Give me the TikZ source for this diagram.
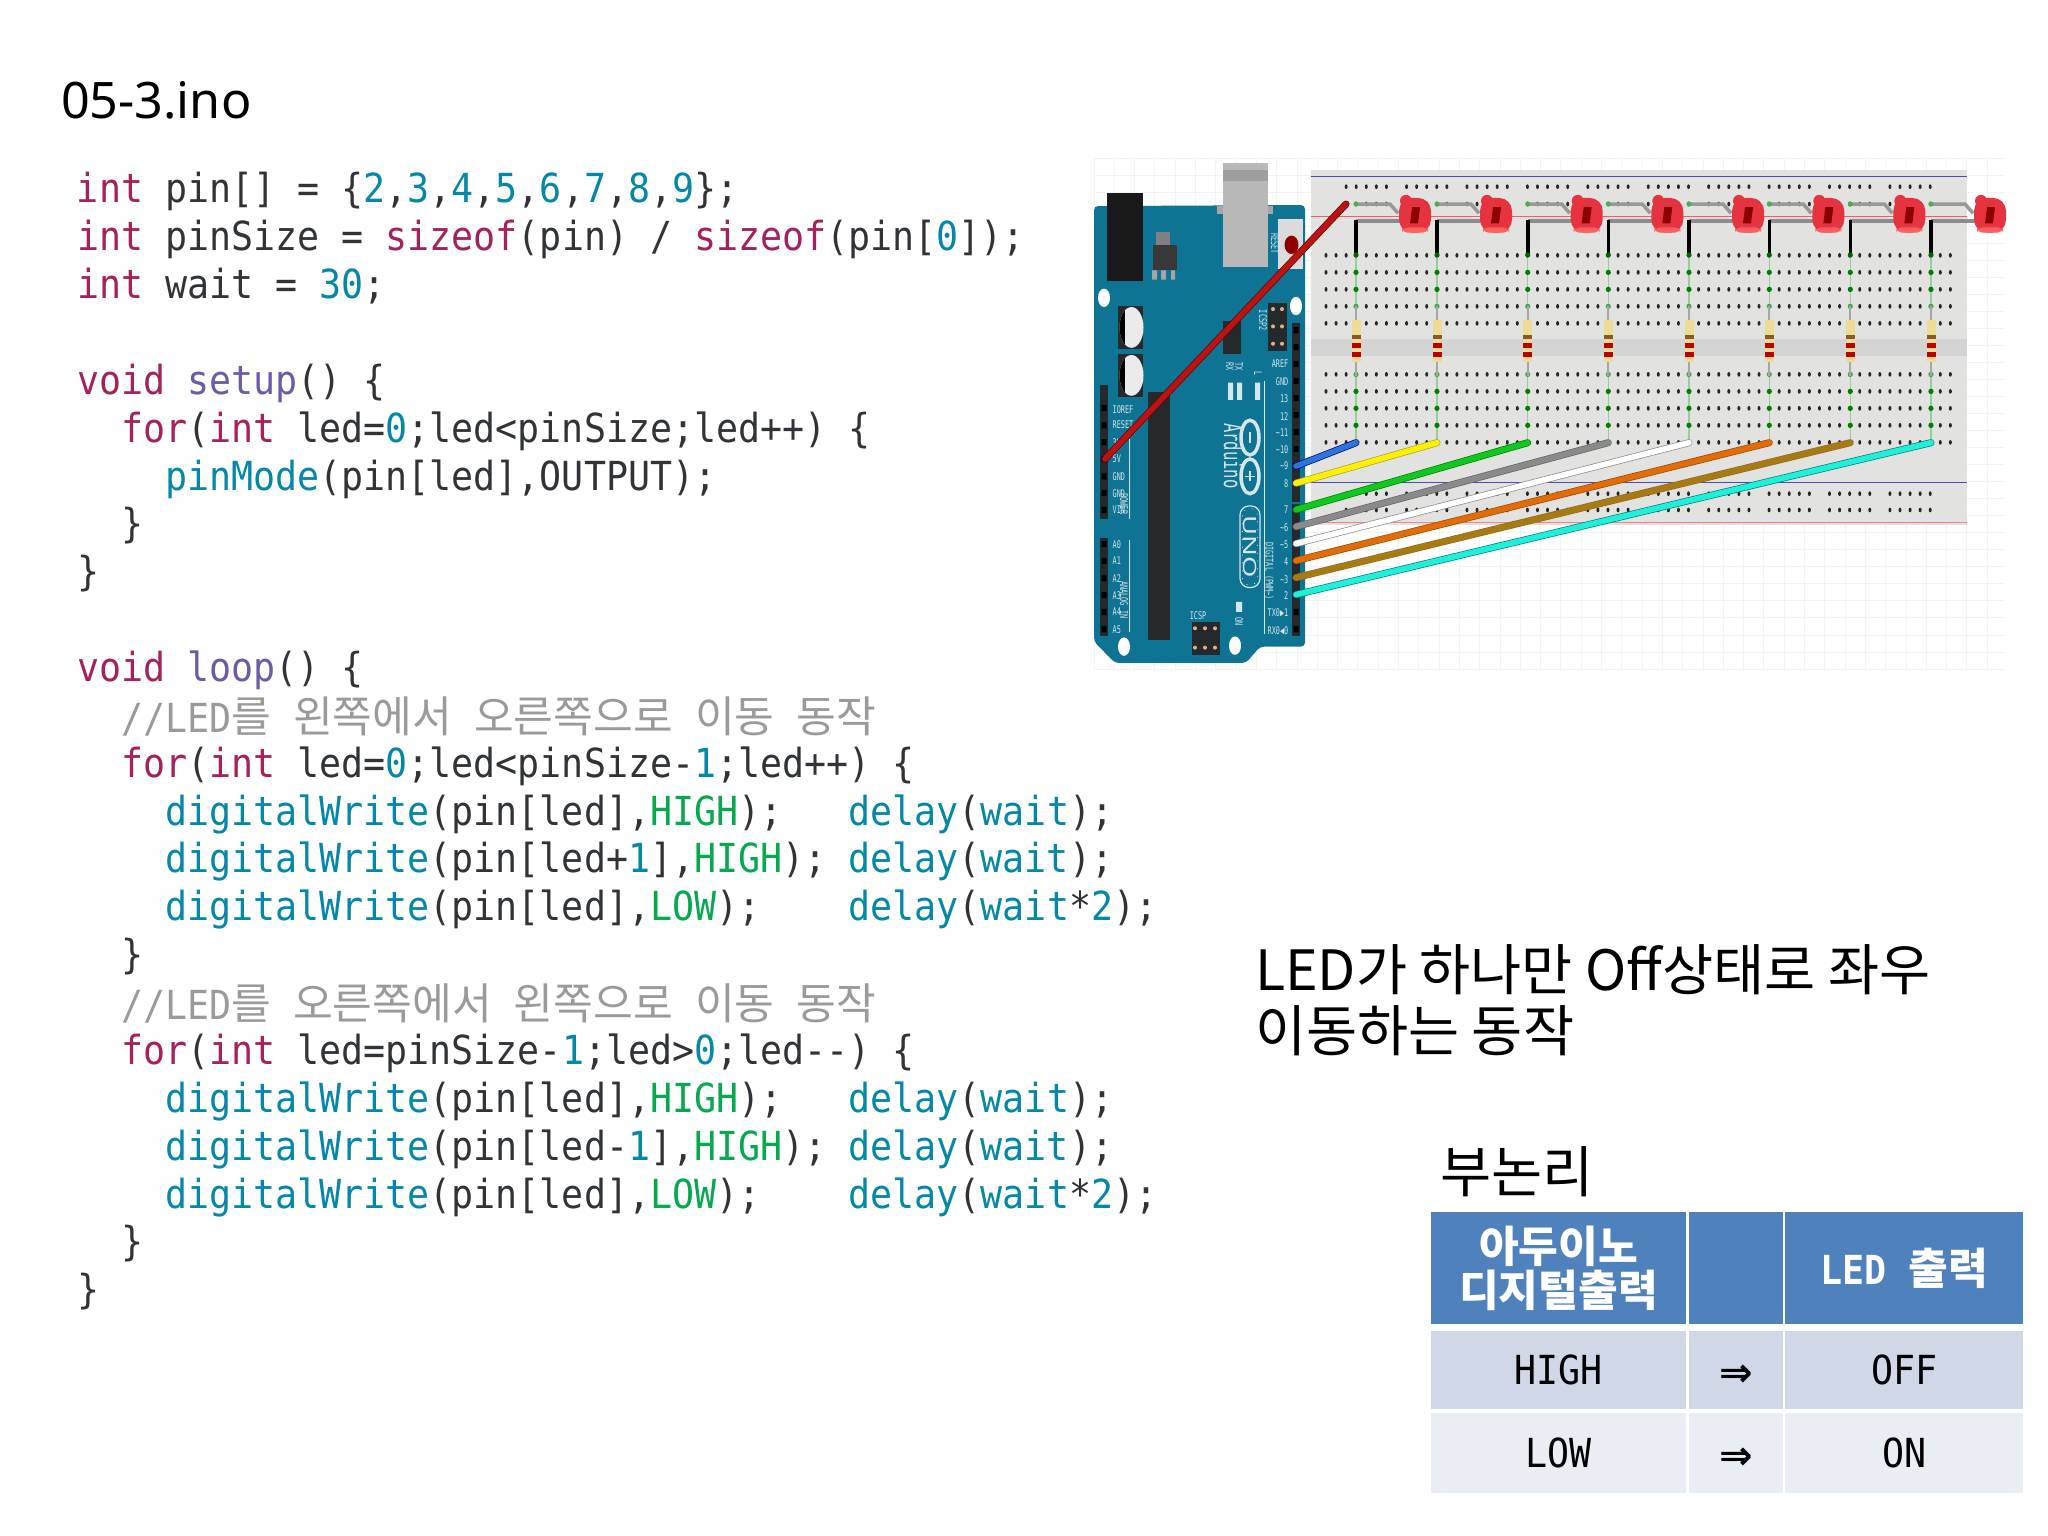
\documentclass[tikz,border=0pt]{standalone}
\usepackage{fontspec}
\usetikzlibrary{positioning}

\setmainfont{Noto Sans}
\newfontfamily\krfont{Noto Sans CJK KR}
\newfontfamily\krcode[Scale=1.08]{Noto Sans CJK KR}
\newfontfamily\codefont[FakeStretch=0.915]{DejaVu Sans Mono}
\newfontfamily\boardfont[FakeStretch=0.65]{DejaVu Sans Mono}
\newfontfamily\unofont[FakeStretch=1.5]{Noto Sans}
\newfontfamily\arrowfont{DejaVu Sans}

\definecolor{kwred}{HTML}{A5215C}
\definecolor{fnteal}{HTML}{0587A8}
\definecolor{setuppurple}{HTML}{6E5AA5}
\definecolor{constgreen}{HTML}{08A850}
\definecolor{cmtgray}{HTML}{9A9A9A}
\definecolor{codeblack}{HTML}{303438}
\definecolor{boardblue}{HTML}{0F7393}
\definecolor{boarddark}{HTML}{25292C}
\definecolor{labelpale}{HTML}{D5E6EC}
\definecolor{headblue}{HTML}{4F81BD}
\definecolor{rowdark}{HTML}{D0D8E8}
\definecolor{rowlight}{HTML}{E9EDF4}
\definecolor{gridline}{HTML}{F3F3F6}
\definecolor{boardgray}{HTML}{E2E2E0}
\definecolor{ledred}{HTML}{E5343F}
\definecolor{wireblue}{HTML}{2E75D8}
\definecolor{wireyellow}{HTML}{FFF000}
\definecolor{wiregreen}{HTML}{10C820}
\definecolor{wiregray}{HTML}{8A8A8A}
\definecolor{wireorange}{HTML}{E36C0A}
\definecolor{wirebrown}{HTML}{A67C10}
\definecolor{wirecyan}{HTML}{20F0D8}
\definecolor{wirered}{HTML}{B81414}

\newcommand{\kw}[1]{\textcolor{kwred}{#1}}
\newcommand{\fn}[1]{\textcolor{fnteal}{#1}}
\newcommand{\su}[1]{\textcolor{setuppurple}{#1}}
\newcommand{\hl}[1]{\textcolor{constgreen}{#1}}
\newcommand{\kr}[1]{{\krcode #1}}
\newcommand{\cmt}[1]{\raisebox{-0.85pt}{\textcolor{cmtgray}{#1}}}
\newcommand{\darrow}{\rule{0pt}{9.4pt}\arrowfont\bfseries ⇒}

\begin{document}
\begin{tikzpicture}[x=0.01cm, y=-0.01cm,
    titletext/.style = {inner sep=0pt, outer sep=0pt, font=\fontsize{14.3}{17}\selectfont, text=black},
    krtext/.style = {inner sep=0pt, outer sep=0pt, align=left, font=\krfont\fontsize{15.8}{17.1}\selectfont, text=black},
    codeblock/.style = {inner sep=0pt, outer sep=0pt, align=left, text=codeblack, font=\codefont\frenchspacing\fontsize{11.38}{13.61}\selectfont},
    tablehead/.style = {inner sep=0pt, outer sep=0pt, align=center, fill=headblue, text=white, font=\codefont\bfseries\fontsize{11.38}{13.61}\selectfont},
    tabledark/.style = {inner sep=0pt, outer sep=0pt, align=center, fill=rowdark, text=black, font=\codefont\fontsize{11.38}{13.61}\selectfont},
    tablelight/.style = {tabledark, fill=rowlight},
    pinlabel/.style = {inner sep=0pt, text=labelpale, font=\boardfont\fontsize{3}{3.4}\selectfont},
    silktext/.style = {pinlabel, rotate=-90},
    header/.style = {fill=boarddark},
    jumper/.style 2 args = {draw=#2, line width=0.007cm, double=#1, double distance=0.056cm, line cap=round}
]
\useasboundingbox (0,0) rectangle (2048,1536);
\fill [white] (0,0) rectangle (2048,1536);

\begin{scope}[y=-0.0102cm, yshift=0.03cm]
% Grid behind the board
\foreach \gx in {1094,1114.3,...,2005} \draw [gridline, line width=0.01cm] (\gx,158) -- (\gx,660);
\foreach \gy in {158,174.7,...,660} \draw [gridline, line width=0.01cm] (1094,\gy) -- (2005,\gy);

% Breadboard
\fill [boardgray] (1311,170) rectangle (1967,518);
\fill [black!17] (1311,335) rectangle (1967,352);
\draw [blue!60!black!70, line width=0.012cm] (1311,176) -- (1967,176);
\draw [red!65, line width=0.012cm] (1311,215) -- (1967,215);
\draw [blue!60!black!70, line width=0.012cm] (1311,476) -- (1967,476);
\draw [red!50, line width=0.012cm] (1311,515) -- (1967,515);
\fill [black!85] \foreach \col in {0,...,62} {\foreach \row in {253.3,270,286.7,303.3,320,370,386.7,403.3,420,436.7} {
    ({1326+10.07*\col},\row) circle [x radius=1.5, y radius=2.3]}};
\fill [black!85] \foreach \grp in {0,...,9} {\foreach \col in {0,...,4} {\foreach \row in {186,203,487,503} {
    ({1326+10.07*(2+6*\grp+\col)},\row) circle [x radius=1.5, y radius=2.3]}}};

% LEDs, resistors
\foreach \wx in {1356,1437,1527.7,1608.3,1689,1769.3,1850.3,1931} {
    \draw [green!60!black!60, line width=0.012cm, opacity=0.6] (\wx,253) -- (\wx,437);
    \fill [green!50!black] \foreach \row in {270,286.7,386.7,403.3,420} {(\wx,\row) circle [radius=2.6]};
    \fill [green!50!black!70] \foreach \row in {303.3,370} {(\wx,\row) circle [radius=2.6]};
    \draw [black!35, line width=0.022cm] (\wx,303) -- (\wx,372);
    \fill [yellow!45!brown!50!white] (\wx-4.5,317) rectangle (\wx+4.5,358);
    \fill [brown!70!black] (\wx-4.5,331) rectangle (\wx+4.5,335);
    \fill [red!75!black] (\wx-4.5,339) rectangle (\wx+4.5,344);
    \fill [red!75!black] (\wx-4.5,348) rectangle (\wx+4.5,353);
    \draw [black!40, line width=0.035cm] (\wx,203) -- ({\wx+34},203) -- ({\wx+42},212);
    \draw [black!45, line width=0.042cm] (\wx,220) -- ({\wx+45},220);
    \fill [green!55!black!70] (\wx,203) circle [radius=2.6];
    \fill [ledred, rounded corners=0.13cm] ({\wx+43},197) rectangle ({\wx+75},231);
    \fill [ledred] ({\wx+50},200) circle [radius=6];
    \fill [red!90!white!70, rounded corners=0.05cm] ({\wx+46},226) rectangle ({\wx+72},231);
    \fill [red!55!black] ({\wx+56},206) -- ({\wx+64},206) -- ({\wx+62},222) -- ({\wx+54},222) -- cycle;
    \draw [black, line width=0.036cm] (\wx,219) -- (\wx,253);
    \fill [green!40!black] (\wx,253) circle [radius=2.6];
}

% Arduino board
\fill [boardblue, rounded corners=0.04cm] (1094,205) -- (1305,204) -- (1305,637) -- (1260,637) -- (1246,653) -- (1115,653) -- (1094,632) -- cycle;
\fill [black!35] (1217,205) rectangle (1273,213);
\fill [black!28] (1223,163) rectangle (1268,265);
\fill [black!38] (1223,170) rectangle (1268,180);
\fill [black!90] (1107,192) rectangle (1143,278);
\fill [black!78] (1153,243) rectangle (1177,268);
\fill [black!50] (1156,230) rectangle (1170,243);
\fill [black!35] (1152,268) rectangle (1157,277) (1161,268) rectangle (1166,277) (1171,268) rectangle (1175,277);
\fill [black!14] (1278,218) rectangle (1303,267);
\fill [red!55!black] (1291.5,243) circle [x radius=7, y radius=9];
\node (resetlabel) [silktext] at (1275,242) {RESET};
\foreach \hx/\hy in {1104/295,1296/303,1124/637,1235/636} \fill [white] (\hx,\hy) circle [x radius=6, y radius=9];
\foreach \cy in {324,371} {
    \fill [boarddark] (1118,\cy-21) rectangle (1143,\cy+21);
    \fill [white!92!black] (1131.5,\cy) circle [x radius=12, y radius=20];
    \begin{scope}
        \clip (1131.5,\cy) circle [x radius=12, y radius=20];
        \fill [black] (1118,\cy-21) rectangle (1125,\cy+21);
    \end{scope}
}
\fill [boarddark] (1148,387) rectangle (1170,630);
\fill [boarddark] (1223,318) rectangle (1241,350);
\fill [header] (1268,300) rectangle (1287,347);
\fill [header] (1192,613) rectangle (1220,645);
\fill [brown!60] \foreach \px in {1273,1282} {\foreach \py in {306,323,340} {(\px,\py) circle [radius=2]}};
\fill [brown!60] \foreach \px in {1195,1205,1215} {\foreach \py in {619,638} {(\px,\py) circle [radius=2]}};
\node (icsptwo) [silktext] at (1263,317) {ICSP2};
\node (icsp) [pinlabel] at (1198,607) {ICSP};

% Headers
\fill [header] (1100,380) rectangle (1108,512);
\fill [header] (1100,530) rectangle (1108,627);
\fill [header] (1292,320) rectangle (1300,495);
\fill [header] (1292,497) rectangle (1300,627);
\fill [black] \foreach \py in {403,420,436.5,453,470,486.5,503,536.5,553,570,586.5,603,620} {(1101.5,\py-3) rectangle (1106.5,\py+3)};
\fill [black] \foreach \py in {326.7,343.3,360,376.7,393.3,410,426.7,443.3,460,476.7,502.7,519.3,536,552.7,569.3,586,603,620} {(1293.5,\py-3) rectangle (1298.5,\py+3)};

% Board labels
\foreach \lbl/\py in {AREF/360,GND/377,13/394,12/411,\textasciitilde 11/427,\textasciitilde 10/444,\textasciitilde 9/460,8/477,7/503,\textasciitilde 6/520,\textasciitilde 5/537,4/554,\textasciitilde 3/571,2/587,TX0▶1/604,RX0◀0/621}
    \node (rlabel\py) [pinlabel, anchor=east] at (1289,\py) {\lbl};
\foreach \lbl/\py in {IOREF/405,RESET/419,3V/437,5V/453,GND/470,GND/487,VIN/503,A0/537,A1/553,A2/570,A3/587,A4/603,A5/620}
    \node (llabel\py) [pinlabel, anchor=west] at (1112,\py) {\lbl};
\node (powerlabel) [silktext] at (1124,497) {POWER};
\node (analoglabel) [silktext] at (1124,591) {ANALOG IN};
\node (digitallabel) [silktext] at (1269,563) {DIGITAL (PWM\textasciitilde)};
\node (txlabel) [silktext] at (1239,362) {TX};
\node (rxlabel) [silktext] at (1230,362) {RX};
\node (llabel) [silktext] at (1258,369) {L};
\node (onlabel) [silktext] at (1239,612) {ON};
\draw [labelpale, line width=0.01cm] (1129,433) -- (1129,512) (1129,532) -- (1129,623) (1264,377) -- (1264,625);
\fill [labelpale] (1228,378) rectangle (1233,395) (1237,378) rectangle (1242,395) (1255,378) rectangle (1260,395) (1236,593) rectangle (1242,603);
\node (arduinolabel) [inner sep=0pt, rotate=-90, text=labelpale, font=\boardfont\fontsize{6.8}{7}\selectfont] at (1233,450) {Arduino};
\draw [labelpale, line width=0.035cm] (1250,432) circle [x radius=9, y radius=17] (1250,470) circle [x radius=9, y radius=17];
\draw [labelpale, line width=0.015cm] (1250,427) -- (1250,437) (1250,465) -- (1250,475) (1245,470) -- (1255,470);
\draw [labelpale, line width=0.012cm, rounded corners=0.09cm] (1240,499) rectangle (1260,579);
\draw [labelpale, line width=0.008cm, dotted, rounded corners=0.07cm] (1242.5,501.5) rectangle (1257.5,576.5);
\node (unolabel) [inner sep=0pt, rotate=-90, text=labelpale, font=\unofont\fontsize{5.2}{6}\selectfont] at (1250,539) {UNO};

% Jumpers
\foreach \pinid/\py/\hx/\wirefill/\wireedge in {9/460/1356/wireblue/blue!60!black,8/476.7/1437/wireyellow/yellow!60!black,7/502.7/1527.7/wiregreen/green!50!black,6/519.3/1608.3/wiregray/black!60,5/536/1689/white/black!45,4/552.7/1769.3/wireorange/orange!60!black,3/569.3/1850.3/wirebrown/brown!80!black,2/586/1931/wirecyan/teal} {
    \coordinate (pin\pinid) at (1296,\py);
    \coordinate (hole\pinid) at (\hx,437);
    \draw [jumper={\wirefill}{\wireedge}] (pin\pinid) -- (hole\pinid);
}
\coordinate (pinfive) at (1105,453);
\coordinate (railhole) at (1346,203);
\draw [jumper={wirered}{red!40!black}] (pinfive) -- (railhole);
\end{scope}

% Text
\node (filename) [titletext, anchor=west] at (61,100) {05-3.ino};
\node (codelisting) [codeblock, anchor=north west] at (77,172.5) {%
\kw{int} pin[] = \{\fn{2},\fn{3},\fn{4},\fn{5},\fn{6},\fn{7},\fn{8},\fn{9}\};\\
\kw{int} pinSize = \kw{sizeof}(pin) / \kw{sizeof}(pin[\fn{0}]);\\
\kw{int} wait = \fn{30};\\
\mbox{}\\
\kw{void} \su{setup}() \{\\
\ \ \kw{for}(\kw{int} led=\fn{0};led<pinSize;led++) \{\\
\ \ \ \ \fn{pinMode}(pin[led],OUTPUT);\\
\ \ \}\\
\}\\
\mbox{}\\
\kw{void} \su{loop}() \{\\
\ \ \cmt{//LED\kr{를} \kr{왼쪽에서} \kr{오른쪽으로} \kr{이동} \kr{동작}}\\
\ \ \kw{for}(\kw{int} led=\fn{0};led<pinSize-\fn{1};led++) \{\\
\ \ \ \ \fn{digitalWrite}(pin[led],\hl{HIGH});\ \ \ \fn{delay}(\fn{wait});\\
\ \ \ \ \fn{digitalWrite}(pin[led+\fn{1}],\hl{HIGH}); \fn{delay}(\fn{wait});\\
\ \ \ \ \fn{digitalWrite}(pin[led],\hl{LOW});\ \ \ \ \fn{delay}(\fn{wait}*\fn{2});\\
\ \ \}\\
\ \ \cmt{//LED\kr{를} \kr{오른쪽에서} \kr{왼쪽으로} \kr{이동} \kr{동작}}\\
\ \ \kw{for}(\kw{int} led=pinSize-\fn{1};led>\fn{0};led-{}-) \{\\
\ \ \ \ \fn{digitalWrite}(pin[led],\hl{HIGH});\ \ \ \fn{delay}(\fn{wait});\\
\ \ \ \ \fn{digitalWrite}(pin[led-\fn{1}],\hl{HIGH}); \fn{delay}(\fn{wait});\\
\ \ \ \ \fn{digitalWrite}(pin[led],\hl{LOW});\ \ \ \ \fn{delay}(\fn{wait}*\fn{2});\\
\ \ \}\\
\}};

\node (caption) [krtext, anchor=north west] at (1255,945) {LED가 하나만 Off상태로 좌우\\이동하는 동작};
\node (logictitle) [krtext, anchor=west] at (1440,1172) {부논리};

% Table
\node (headA) [tablehead, minimum width=2.55cm, minimum height=1.12cm, anchor=north west] at (1431,1212) {\krcode 아두이노\\[-1pt]\krcode 디지털출력};
\node (headB) [tablehead, minimum width=0.94cm, minimum height=1.12cm, right=0.03cm of headA] {};
\node (headC) [tablehead, minimum width=2.38cm, minimum height=1.12cm, right=0.02cm of headB] {LED \kr{출력}};
\node (highA) [tabledark, minimum width=2.55cm, minimum height=0.78cm, below=0.07cm of headA] {HIGH};
\node (highB) [tabledark, minimum width=0.94cm, minimum height=0.78cm, below=0.07cm of headB] {\darrow};
\node (highC) [tabledark, minimum width=2.38cm, minimum height=0.78cm, below=0.07cm of headC] {OFF};
\node (lowA) [tablelight, minimum width=2.55cm, minimum height=0.80cm, below=0.04cm of highA] {LOW};
\node (lowB) [tablelight, minimum width=0.94cm, minimum height=0.80cm, below=0.04cm of highB] {\darrow};
\node (lowC) [tablelight, minimum width=2.38cm, minimum height=0.80cm, below=0.04cm of highC] {ON};

\end{tikzpicture}
\end{document}
